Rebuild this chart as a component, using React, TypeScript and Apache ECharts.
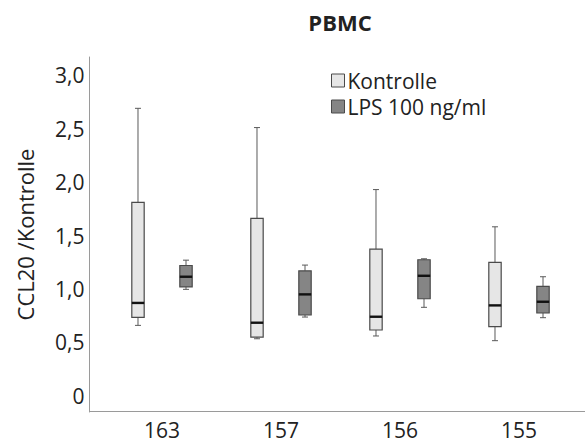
import React, { useEffect, useRef } from "react";
import * as echarts from "echarts";

const categories = ["163", "157", "156", "155"];
const seriesNames = ["Kontrolle", "LPS 100 ng/ml"];
// [min, q1, median, q3, max]
const kontrolle = [
  [0.66, 0.735, 0.87, 1.81, 2.69],
  [0.535, 0.55, 0.685, 1.66, 2.51],
  [0.561, 0.617, 0.741, 1.374, 1.93],
  [0.517, 0.648, 0.847, 1.249, 1.582],
];
const lps = [
  [0.997, 1.02, 1.115, 1.22, 1.27],
  [0.738, 0.757, 0.95, 1.17, 1.224],
  [0.829, 0.909, 1.124, 1.274, 1.283],
  [0.732, 0.776, 0.881, 1.025, 1.115],
];
const yTicks = [0, 0.5, 1, 1.5, 2, 2.5, 3];

const FONT = "'Open Sans', 'DejaVu Sans', sans-serif";
const fills = ["#e6e6e6", "#858585"];

function makeRender(offsetRatio: number, fill: string) {
  return (params: any, api: any) => {
    const cat = api.value(0);
    const band = api.size([1, 0])[0];
    const cx = api.coord([cat, 0])[0] + offsetRatio * band;
    const bw = band * 0.104;
    const cap = 6;
    const y = (i: number) => api.coord([cat, api.value(i)])[1];
    const yMin = y(1), q1 = y(2), med = y(3), q3 = y(4), yMax = y(5);
    const wl = { stroke: "#5a5a5a", lineWidth: 1 };
    return {
      type: "group",
      children: [
        { type: "line", shape: { x1: cx, y1: yMax, x2: cx, y2: q3 }, style: wl },
        { type: "line", shape: { x1: cx, y1: q1, x2: cx, y2: yMin }, style: wl },
        { type: "line", shape: { x1: cx - cap / 2, y1: yMax, x2: cx + cap / 2, y2: yMax }, style: wl },
        { type: "line", shape: { x1: cx - cap / 2, y1: yMin, x2: cx + cap / 2, y2: yMin }, style: wl },
        {
          type: "rect",
          shape: { x: cx - bw / 2, y: q3, width: bw, height: q1 - q3 },
          style: { fill, stroke: "#4a4a4a", lineWidth: 1.2 },
        },
        { type: "line", shape: { x1: cx - bw / 2, y1: med, x2: cx + bw / 2, y2: med }, style: { stroke: "#111", lineWidth: 2.4 } },
      ],
    };
  };
}

export default function App() {
  const ref = useRef<HTMLDivElement>(null);
  useEffect(() => {
    if (!ref.current) return;
    const chart = echarts.init(ref.current, undefined, { renderer: "svg" });
    const toData = (arr: number[][]) => arr.map((r, i) => [i, ...r]);
    chart.setOption({
      animation: false,
      title: {
        text: "PBMC",
        left: 340,
        top: 11,
        textAlign: "center",
        padding: 0,
        textStyle: { fontFamily: FONT, fontSize: 22, fontWeight: "bold", color: "#222" },
      },
      legend: {
        orient: "vertical",
        left: 331,
        top: 70,
        padding: 0,
        itemGap: 5,
        itemWidth: 13,
        itemHeight: 13,
        icon: "rect",
        textStyle: { fontFamily: FONT, fontSize: 21, lineHeight: 21, color: "#222", padding: [0, 0, 0, -2] },
        data: [
          { name: seriesNames[0], itemStyle: { color: fills[0], borderColor: "#4a4a4a", borderWidth: 1 } },
          { name: seriesNames[1], itemStyle: { color: fills[1], borderColor: "#4a4a4a", borderWidth: 1 } },
        ],
      },
      grid: { left: 102.5, right: 6.5, top: 57, bottom: 32 },
      xAxis: {
        type: "category",
        data: categories,
        axisLine: { show: false },
        axisTick: { show: false },
        axisLabel: { fontFamily: FONT, fontSize: 21, lineHeight: 18, color: "#222", margin: 9 },
        splitLine: { show: false },
      },
      yAxis: {
        type: "value",
        min: -0.15,
        max: 3.17,
        offset: 13,
        name: "CCL20 /Kontrolle",
        nameLocation: "middle",
        nameGap: 54,
        nameTextStyle: { fontFamily: FONT, fontSize: 22, color: "#222" },
        axisLine: { show: true, lineStyle: { color: "#9a9a9a", width: 1 } },
        axisTick: { show: false },
        splitLine: { show: false },
        axisLabel: {
          customValues: yTicks,
          fontFamily: FONT,
          fontSize: 21,
          color: "#222",
          margin: 5,
          formatter: (v: number) => (Math.abs(v) < 1e-9 ? "0" : v.toFixed(1).replace(".", ",")),
        },
      },
      graphic: [
        {
          type: "line",
          shape: { x1: 89, y1: 411.5, x2: 585, y2: 411.5 },
          style: { stroke: "#9a9a9a", lineWidth: 1 },
          silent: true,
        },
      ],
      series: [
        {
          name: seriesNames[0],
          type: "custom",
          renderItem: makeRender(-0.2017, fills[0]),
          itemStyle: { color: fills[0] },
          encode: { x: 0, y: [1, 2, 3, 4, 5] },
          data: toData(kontrolle),
        },
        {
          name: seriesNames[1],
          type: "custom",
          renderItem: makeRender(0.2017, fills[1]),
          itemStyle: { color: fills[1] },
          encode: { x: 0, y: [1, 2, 3, 4, 5] },
          data: toData(lps),
        },
      ],
    });
    return () => chart.dispose();
  }, []);
  return (
    <div
      ref={ref}
      style={{ position: "fixed", left: 0, top: 0, width: 585, height: 444, background: "#fff" }}
    />
  );
}
